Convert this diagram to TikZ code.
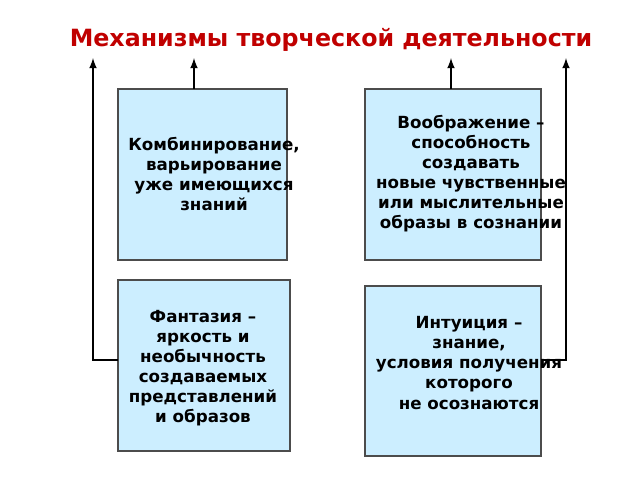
\documentclass[tikz,border=0pt]{standalone}
\usepackage{fontspec}
\setmainfont{DejaVu Sans}
\usetikzlibrary{positioning}
\definecolor{boxblue}{HTML}{CCEEFF}
\definecolor{titlered}{HTML}{C00000}
\tikzset{box/.style = {draw=black!70,fill=boxblue,line width=0.6pt},
         txt/.style = {align=center,font=\bfseries\fontsize{9.5}{11.4}\selectfont},
         arr/.style = {-latex,line width=1pt}}

\begin{document}
\begin{tikzpicture}[x=0.02cm,y=-0.02cm]
    \useasboundingbox (0,0) rectangle (640,480);

    \node [font=\bfseries\fontsize{13.5}{16}\selectfont,text=titlered] (title) at (331,40) {Механизмы творческой деятельности};

    \draw [box] (118,89) rectangle (287,260);
    \draw [box] (365,89) rectangle (541,260);
    \draw [box] (118,280) rectangle (290,451);
    \draw [box] (365,286) rectangle (541,456);

    \node [txt] (komb) at (214,174) {Комбинирование,\\варьирование\\уже имеющихся\\знаний};
    \node [txt] (voob) at (471,174) {Воображение –\\способность\\создавать\\новые чувственные\\или мыслительные\\образы в сознании};
    \node [txt] (fant) at (203,368) {Фантазия –\\яркость и\\необычность\\создаваемых\\представлений\\и образов};
    \node [txt] (intu) at (469,363) {Интуиция –\\знание,\\условия получения\\которого\\не осознаются};

    \coordinate (t1) at (194,89);
    \coordinate (t2) at (451,89);
    \coordinate (l3) at (118,360);
    \coordinate (r4) at (541,360);

    \draw [arr] (t1) -- (194,58);
    \draw [arr] (t2) -- (451,58);
    \draw [arr] (l3) -- (93,360) -- (93,58);
    \draw [arr] (r4) -- (566,360) -- (566,58);
\end{tikzpicture}
\end{document}
